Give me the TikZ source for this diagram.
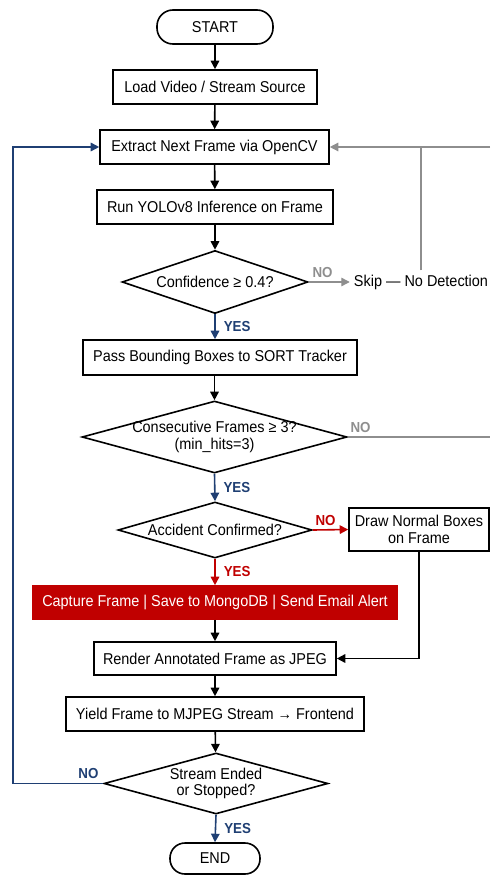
\documentclass[tikz,border=0pt]{standalone}
\usepackage{fontspec}
\setmainfont{Liberation Sans}[FakeStretch=0.92]
\usetikzlibrary{arrows.meta,shapes.geometric}
\definecolor{navy}{HTML}{1F3F73}
\definecolor{dred}{HTML}{C00000}
\definecolor{lgray}{HTML}{8E8E8E}
\begin{document}
\begin{tikzpicture}[x=1pt,y=-1pt,
 font=\fontsize{15.7}{17}\selectfont,
 box/.style={draw, line width=1.6pt, minimum height=34pt, inner sep=0pt, align=center},
 term/.style={draw, line width=1.6pt, rounded corners=16pt, minimum height=34pt, inner sep=0pt},
 dia/.style={draw, diamond, line width=1.6pt, inner sep=0pt},
 dtxt/.style={align=center, inner sep=0pt, font=\fontsize{15.7}{16.8}\selectfont},
 arr/.style={line width=1.6pt, -{Triangle[length=8.5pt,width=8.5pt]}},
 gline/.style={line width=1.4pt, lgray},
 lbl/.style={font=\bfseries\fontsize{14.5}{16}\selectfont, inner sep=0pt},
]
\useasboundingbox (0,0) rectangle (490,875);
\coordinate (rightedge) at (490,0);
\coordinate (loopx) at (13,0);

\node[term, minimum width=116pt] (start) at (215,27) {START};
\node[box, minimum width=204pt] (load) at (215,87) {Load Video / Stream Source};
\node[box, minimum width=229pt] (extract) at (214.5,147) {Extract Next Frame via OpenCV};
\node[box, minimum width=236pt] (yolo) at (215,207) {Run YOLOv8 Inference on Frame};
\node[dia, minimum width=186pt, minimum height=63pt] (conf) at (215,282) {};
\node[dtxt] (conft) at (conf) {Confidence ≥ 0.4?};
\node[inner sep=4pt] (skip) at (421,282) {Skip — No Detection};
\node[box, minimum width=274pt, minimum height=35pt] (pass) at (220,357.5) {Pass Bounding Boxes to SORT Tracker};
\node[dia, minimum width=265pt, minimum height=72pt] (cons) at (214.5,437) {};
\node[dtxt] (const) at (cons) {Consecutive Frames ≥ 3?\\(min\_hits=3)};
\node[dia, minimum width=194pt, minimum height=56pt] (acc) at (215,530) {};
\node[dtxt] (acct) at (acc) {Accident Confirmed?};
\node[box, minimum width=140pt, minimum height=43pt, font=\fontsize{15.7}{16.8}\selectfont] (normal) at (419,529.5) {Draw Normal Boxes\\on Frame};
\node[box, fill=dred, draw=dred, text=white, minimum width=364pt, minimum height=33pt] (capture) at (215,602.5) {Capture Frame | Save to MongoDB | Send Email Alert};
\node[box, minimum width=242pt, minimum height=33pt] (render) at (215,658.5) {Render Annotated Frame as JPEG};
\node[box, minimum width=298pt, minimum height=34pt] (yield) at (215,714) {Yield Frame to MJPEG Stream → Frontend};
\node[dia, minimum width=224pt, minimum height=61pt] (stream) at (216,783.5) {};
\node[dtxt] (streamt) at (stream) {Stream Ended\\or Stopped?};
\node[term, minimum width=90pt, minimum height=31pt, rounded corners=15pt] (end) at (215,858.5) {END};

\draw[arr] (start) -- (load);
\draw[arr] (load) -- (extract);
\draw[arr] (extract) -- (yolo);
\draw[arr] (yolo) -- (conf);
\draw[arr, navy] (conf.south) -- (conf.south |- pass.north) node[lbl, midway, right=8pt] (yes1) {YES};
\draw[arr] (pass.south -| cons.north) -- (cons.north);
\draw[arr, navy] (cons.south) -- (acc.north) node[lbl, midway, right=8pt] (yes2) {YES};
\draw[arr, dred] (acc.south) -- (capture.north) node[lbl, midway, right=8pt] (yes3) {YES};
\draw[arr] (capture) -- (render);
\draw[arr] (render) -- (yield);
\draw[arr] (yield) -- (stream);
\draw[arr, navy] (stream.south) -- (end.north) node[lbl, midway, right=8pt] (yes4) {YES};

% NO branches
\draw[arr, lgray, line width=1.4pt] (conf.east) -- (skip.west) node[lbl, at start, anchor=south west, xshift=3pt, yshift=4pt, lgray] (no1) {NO};
\draw[gline] (skip.north) -- (skip.north |- extract.east);
\draw[arr, lgray, line width=1.4pt] (extract.east -| rightedge) -- (extract.east);
\draw[gline] (cons.east) -- (cons.east -| rightedge) node[lbl, at start, anchor=south west, xshift=2pt, yshift=4pt, lgray] (no2) {NO};
\draw[arr, dred] (acc.east) -- (normal.west) node[lbl, at start, anchor=south west, xshift=2pt, yshift=4pt, dred] (no3) {NO};
\draw[arr] (normal.south) |- (render.east);
\draw[arr, navy] (stream.west) -- (stream.west -| loopx) node[lbl, at start, anchor=south east, xshift=-4pt, yshift=4pt, navy] (no4) {NO} |- (extract.west);
\end{tikzpicture}
\end{document}
